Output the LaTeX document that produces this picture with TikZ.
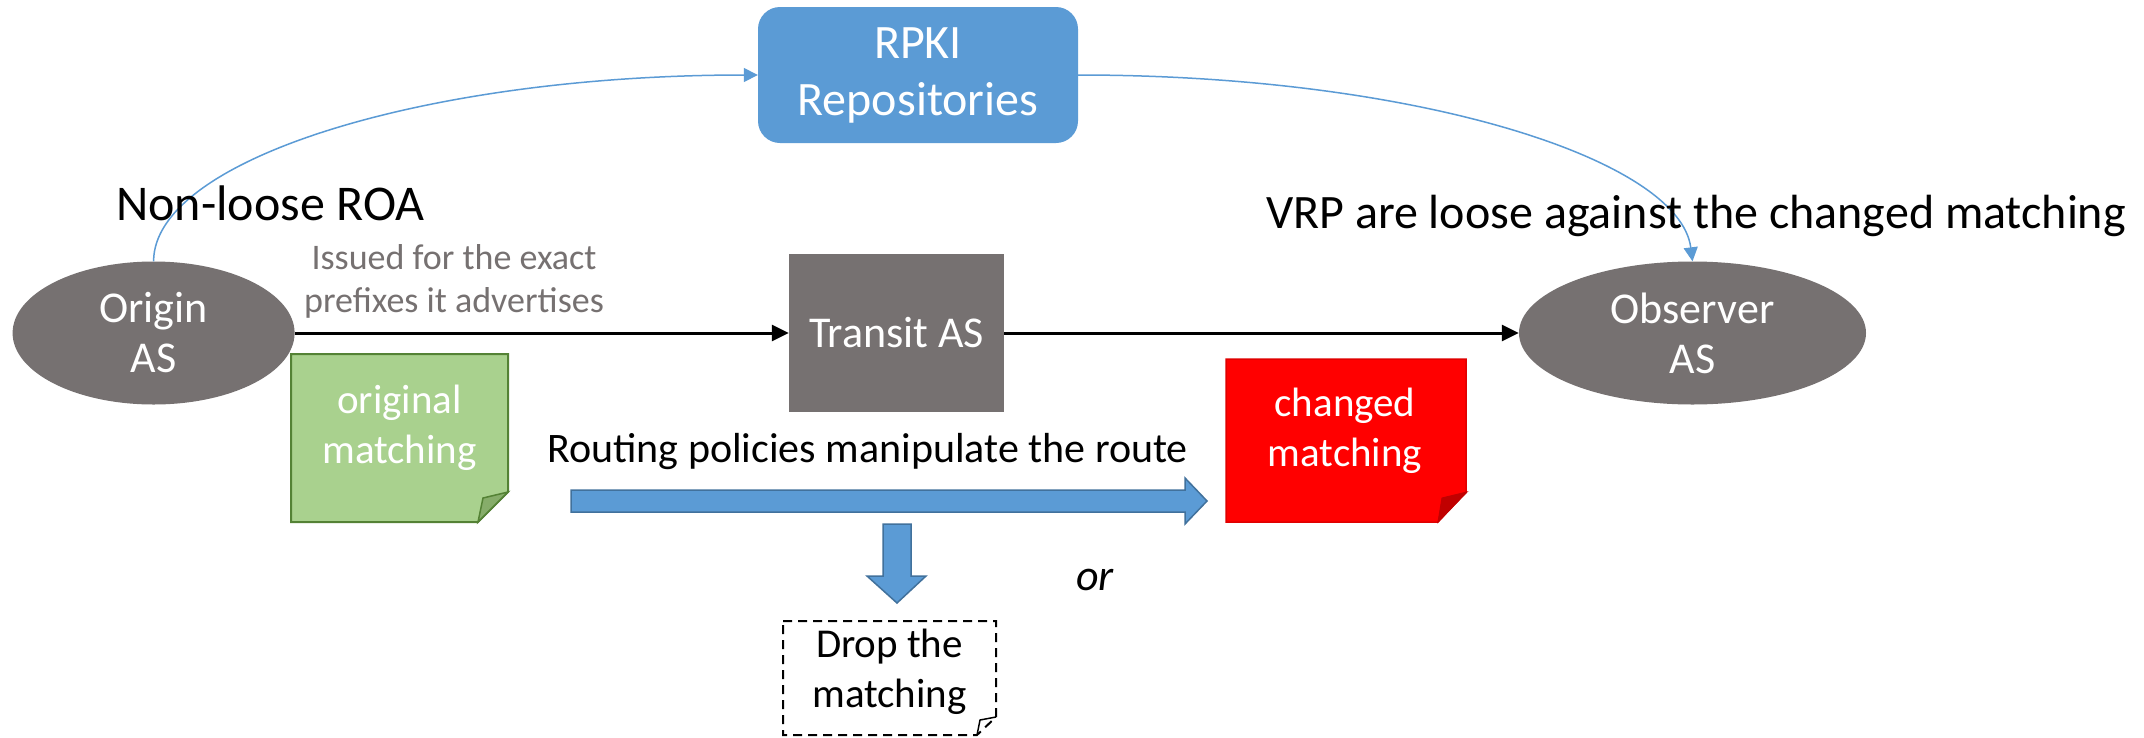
\documentclass[tikz,border=0pt]{standalone}
\usepackage{fontspec}
\setmainfont{Carlito}
\usetikzlibrary{shapes.geometric,arrows.meta}
\definecolor{asgray}{HTML}{767171}
\definecolor{rpkiblue}{HTML}{5B9BD5}
\definecolor{arrowedge}{HTML}{41719C}
\definecolor{notegreen}{HTML}{A9D18E}
\definecolor{notegreenline}{HTML}{548235}
\definecolor{notegreenfold}{HTML}{86AD6A}
\definecolor{notered}{HTML}{FF0000}
\definecolor{noteredline}{HTML}{E00000}
\definecolor{noteredfold}{HTML}{C00000}
\begin{document}
\begin{tikzpicture}[x=1pt,y=-1pt,
  asnode/.style={fill=asgray, text=white, align=center, inner sep=0pt, font=\fontsize{44}{50}\selectfont},
  flow/.style={line width=3pt, -{Triangle[length=17pt,width=16pt]}},
  feed/.style={draw=rpkiblue, line width=1.5pt, -{Triangle[length=14pt,width=14pt]}},
  bigtext/.style={inner sep=0pt, font=\fontsize{48}{56}\selectfont},
  notetext/.style={inner sep=0pt, align=center, font=\fontsize{41}{50}\selectfont},
  blockarrow/.style={fill=rpkiblue, draw=arrowedge, line width=1.5pt, line join=miter}
]
\useasboundingbox[fill=white] (0,0) rectangle (2144,737);

% notes and block arrows (shapes)
\filldraw[fill=notegreen, draw=notegreenline, line width=2pt] (291,354) -- (508,354) -- (508,492) -- (478,522) -- (291,522) -- cycle;
\filldraw[fill=notegreenfold, draw=notegreenline, line width=1.5pt] (508,492) -- (478,522) -- (483,498) -- cycle;
\filldraw[fill=notered, draw=noteredline, line width=1.5pt] (1226,359) -- (1466,359) -- (1466,492) -- (1438,522) -- (1226,522) -- cycle;
\filldraw[fill=noteredfold, draw=noteredfold, line width=1pt] (1467,492) -- (1438,522) -- (1442,498) -- cycle;
\draw[line width=2pt, dash pattern=on 9pt off 6pt] (783,621) -- (996,621) -- (996,717) -- (977,735) -- (783,735) -- cycle;
\draw[line width=1.5pt] (996,717) -- (980,720) -- (977,735);

\draw[blockarrow] (571,490) -- (1185,490) -- (1185,478) -- (1207,501) -- (1185,524) -- (1185,512) -- (571,512) -- cycle;
\draw[blockarrow] (883,524) -- (911,524) -- (911,576) -- (926,576) -- (897,603) -- (867,576) -- (883,576) -- cycle;

% main nodes
\node[asnode, ellipse, minimum width=282pt, minimum height=143pt] (origin) at (153.6,333) {Origin\\AS};
\node[asnode, rectangle, minimum width=215pt, minimum height=158pt] (transit) at (896.5,333) {Transit AS};
\node[asnode, ellipse, minimum width=347pt, minimum height=143pt] (observer) at (1692.5,333) {Observer\\AS};
\node[fill=rpkiblue, rounded corners=22pt, text=white, align=center, inner sep=0pt,
      minimum width=320pt, minimum height=136pt, font=\fontsize{48}{57}\selectfont] (rpki) at (918,75) {RPKI\\Repositories};

% connectors
\draw[flow] (origin) -- (transit);
\draw[flow] (transit) -- (observer);
\draw[feed] (origin.north) .. controls +(0,-102) and +(-332,0) .. (rpki.west);
\draw[feed] (rpki.east) .. controls +(338,0) and +(-13,-102) .. (observer.north);

% labels
\node[bigtext, font=\fontsize{50}{56}\selectfont, anchor=base west] (roa) at (116,220) {Non-loose ROA};
\node[inner sep=0pt, text=asgray, align=center, font=\fontsize{36}{43}\selectfont] (issued) at (454,281) {Issued for the exact\\prefixes it advertises};
\node[bigtext, anchor=base west] (vrp) at (1266,228) {VRP are loose against the changed matching};
\node[inner sep=0pt, font=\fontsize{42}{50}\selectfont, anchor=base west] (routing) at (547,462) {Routing policies manipulate the route};
\node[inner sep=0pt, font=\itshape\fontsize{44}{50}\selectfont] (ortext) at (1095,580) {or};

\node[notetext, text=white] (origmatch) at (399.5,428) {original\\matching};
\node[notetext, text=white] (changedmatch) at (1345,431) {changed\\matching};
\node[notetext] (drop) at (889.5,672) {Drop the\\matching};
\end{tikzpicture}
\end{document}
